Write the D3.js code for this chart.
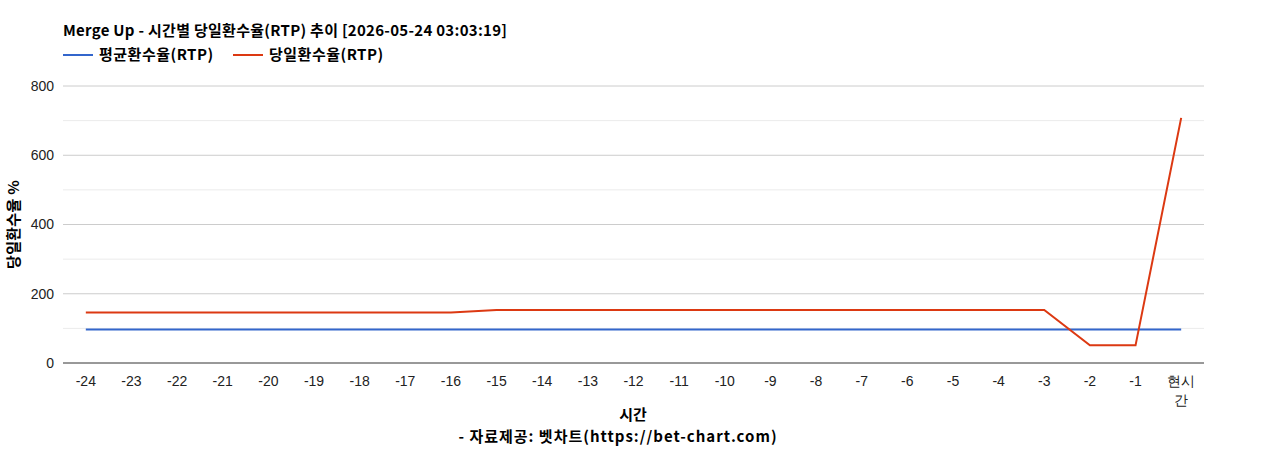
<!DOCTYPE html>
<html>
<head>
<meta charset="utf-8">
<script src="https://cdn.jsdelivr.net/npm/d3@7"></script>
<style>
  body { margin: 0; background: #fff; }
  svg { display: block; }
</style>
</head>
<body>
<div id="chart"></div>
<script>
// hourly categories, last one is "now"
const hours = ["-24","-23","-22","-21","-20","-19","-18","-17","-16","-15","-14","-13",
               "-12","-11","-10","-9","-8","-7","-6","-5","-4","-3","-2","-1","현시간"];
const avgRtp = [97,97,97,97,97,97,97,97,97,97,97,97,97,97,97,97,97,97,97,97,97,97,97,97,97];
const dayRtp = [146,146,146,146,146,146,146,146,146,153,153,153,153,153,153,153,153,153,153,153,153,153,51,51,708];
const yTicks = [0,200,400,600,800];
const yMinor = [100,300,500,700];

const width = 1268, height = 450;
const margin = { top: 86, right: 64, bottom: 87, left: 63 };
const kr = "'Noto Sans CJK KR', 'Noto Sans', sans-serif";
const ar = "'Liberation Sans', Arial, sans-serif";

const svg = d3.select("#chart").append("svg")
    .attr("width", width)
    .attr("height", height);

const x = d3.scalePoint()
    .domain(hours)
    .range([margin.left, width - margin.right])
    .padding(0.5);

const y = d3.scaleLinear()
    .domain([0, 800])
    .range([height - margin.bottom, margin.top]);

// gridlines
svg.append("g").selectAll("line")
    .data(yMinor)
    .enter().append("line")
    .attr("x1", margin.left).attr("x2", width - margin.right)
    .attr("y1", d => y(d)).attr("y2", d => y(d))
    .attr("stroke", "#ebebeb");

svg.append("g").selectAll("line")
    .data(yTicks.filter(d => d > 0))
    .enter().append("line")
    .attr("x1", margin.left).attr("x2", width - margin.right)
    .attr("y1", d => y(d)).attr("y2", d => y(d))
    .attr("stroke", "#cccccc");

// y tick labels
svg.append("g").selectAll("text")
    .data(yTicks)
    .enter().append("text")
    .attr("x", margin.left - 9)
    .attr("y", d => y(d))
    .attr("dy", "0.35em")
    .attr("text-anchor", "end")
    .attr("font-family", ar)
    .attr("font-size", 14)
    .attr("fill", "#222")
    .text(d => d);

// baseline
svg.append("line")
    .attr("x1", margin.left).attr("x2", width - margin.right)
    .attr("y1", y(0)).attr("y2", y(0))
    .attr("stroke", "#333");

// x tick labels
const xl = svg.append("g").selectAll("text")
    .data(hours)
    .enter().append("text")
    .attr("x", d => x(d))
    .attr("y", y(0) + 23)
    .attr("text-anchor", "middle")
    .attr("font-family", ar)
    .attr("font-size", 14)
    .attr("fill", "#222");

xl.each(function(d) {
    const t = d3.select(this);
    if (d.length > 2 && !d.startsWith("-")) {
        t.append("tspan").attr("x", x(d)).text(d.slice(0, 2));
        t.append("tspan").attr("x", x(d)).attr("dy", 19).text(d.slice(2));
    } else {
        t.text(d);
    }
});

// lines
const line = vals => d3.line()
    .x((d, i) => x(hours[i]))
    .y(d => y(d))(vals);

svg.append("path")
    .attr("d", line(avgRtp))
    .attr("fill", "none")
    .attr("stroke", "#3366cc")
    .attr("stroke-width", 2);

svg.append("path")
    .attr("d", line(dayRtp))
    .attr("fill", "none")
    .attr("stroke", "#dc3912")
    .attr("stroke-width", 2);

// bold labels helper
function label(sel, fs, ls) {
    return sel.attr("font-family", kr)
        .attr("font-size", fs)
        .attr("font-weight", "bold")
        .attr("letter-spacing", ls || 0)
        .attr("fill", "#000");
}

// title
label(svg.append("text"), 15, 0.28)
    .attr("x", margin.left)
    .attr("y", 36)
    .text("Merge Up - 시간별 당일환수율(RTP) 추이 [2026-05-24 03:03:19]");

// legend
const legend = [
    { name: "평균환수율(RTP)", color: "#3366cc", x0: 63 },
    { name: "당일환수율(RTP)", color: "#dc3912", x0: 233 }
];
const lg = svg.append("g").selectAll("g")
    .data(legend)
    .enter().append("g");
lg.append("line")
    .attr("x1", d => d.x0).attr("x2", d => d.x0 + 30)
    .attr("y1", 55).attr("y2", 55)
    .attr("stroke", d => d.color)
    .attr("stroke-width", 2);
label(lg.append("text"), 15, 0.5)
    .attr("x", d => d.x0 + 36)
    .attr("y", 55)
    .attr("dy", "0.35em")
    .text(d => d.name);

// axis titles
label(svg.append("text"), 15, 0.3)
    .attr("transform", `translate(19,${(y(0) + y(800)) / 2}) rotate(-90)`)
    .attr("text-anchor", "middle")
    .text("당일환수율 %");

label(svg.append("text"), 15)
    .attr("x", 633)
    .attr("y", 420)
    .attr("text-anchor", "middle")
    .text("시간");

label(svg.append("text"), 15, 1)
    .attr("x", 618)
    .attr("y", 442)
    .attr("text-anchor", "middle")
    .text("- 자료제공: 벳차트(https://bet-chart.com)");
</script>
</body>
</html>
